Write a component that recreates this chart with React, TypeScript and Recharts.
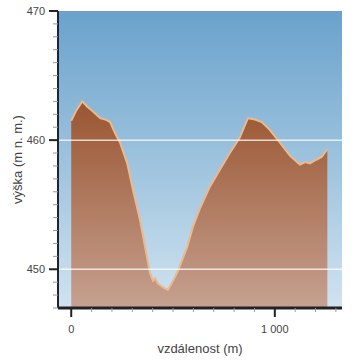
import { AreaChart, Area, XAxis, YAxis, ReferenceLine } from "recharts";

// horizontal distance along the profile (m)
const distances = [
  0, 25, 54, 78, 108, 142, 167, 191, 216, 240, 275, 304, 338, 363, 387, 402, 412, 426,
  451, 475, 500, 525, 569, 598, 632, 681, 730, 779, 828, 868, 902, 936, 975, 1025,
  1074, 1123, 1150, 1172, 1206, 1230, 1258,
];
// elevation (m n. m.)
const elevations = [
  461.5, 462.3, 463.0, 462.6, 462.2, 461.7, 461.6, 461.4, 460.5, 459.8, 458.2, 456.1,
  453.8, 451.7, 449.7, 449.1, 449.3, 448.9, 448.6, 448.4, 449.1, 449.9, 451.7, 453.3,
  454.7, 456.4, 457.7, 459.0, 460.2, 461.7, 461.6, 461.4, 460.8, 459.8, 458.8, 458.1,
  458.3, 458.2, 458.5, 458.7, 459.3,
];

const yTicks = Array.from({ length: 24 }, (_, i) => 447 + i);
const yMajor = [450, 460, 470];
const xTicks = Array.from({ length: 14 }, (_, i) => i * 100);
const xMajor = [0, 1000];

const data = distances.map((d, i) => ({ d, h: elevations[i] }));

const font = "'Liberation Sans', Arial, sans-serif";

const fmtX = (v: number) => (v === 1000 ? "1\u00a0000" : String(v));

const YTick = (props: any) => {
  const { x, y, payload } = props;
  const major = yMajor.includes(payload.value);
  return (
    <g>
      <line
        x1={major ? x - 9 : x - 5}
        x2={x}
        y1={y}
        y2={y}
        stroke={major ? "#222" : "#999"}
        strokeWidth={major ? 2 : 1}
      />
      {major && (
        <text x={x - 13} y={y} dy={4} textAnchor="end" fontSize={11} fill="#444" fontFamily={font}>
          {payload.value}
        </text>
      )}
    </g>
  );
};

const XTick = (props: any) => {
  const { x, y, payload } = props;
  const major = xMajor.includes(payload.value);
  return (
    <g>
      <line
        x1={x}
        x2={x}
        y1={y}
        y2={major ? y + 9 : y + 4}
        stroke={major ? "#222" : "#999"}
        strokeWidth={major ? 2 : 1}
      />
      {major && (
        <text x={x} y={y + 25} textAnchor="middle" fontSize={11} fill="#444" fontFamily={font}>
          {fmtX(payload.value)}
        </text>
      )}
    </g>
  );
};

export default function App() {
  return (
    <div style={{ position: "fixed", left: 0, top: 0, width: 354, height: 362, background: "#fff" }}>
      <AreaChart
        width={354}
        height={362}
        data={data}
        margin={{ top: 11, right: 12, left: 0, bottom: 0 }}
      >
        <defs>
          <linearGradient id="bg" x1="0" y1="0" x2="0" y2="1">
            <stop offset="0%" stopColor="#6aa2cc" />
            <stop offset="100%" stopColor="#d0e3f0" />
          </linearGradient>
          <linearGradient id="ground" x1="0" y1="0" x2="0" y2="1">
            <stop offset="0%" stopColor="#9a5530" />
            <stop offset="100%" stopColor="#c6a191" />
          </linearGradient>
        </defs>
        <rect x={58} y={11} width={284} height={297} fill="url(#bg)" />
        <XAxis
          dataKey="d"
          type="number"
          domain={[-65, 1330]}
          ticks={xTicks}
          tick={<XTick />}
          tickLine={false}
          tickSize={0}
          tickMargin={0}
          height={54}
          axisLine={{ stroke: "#222", strokeWidth: 3 }}
          interval={0}
          label={{
            value: "vzdálenost (m)",
            position: "insideBottom",
            offset: 9,
            fontSize: 13,
            fill: "#444",
            fontFamily: font,
          }}
        />
        <YAxis
          type="number"
          domain={[447, 470]}
          ticks={yTicks}
          tick={<YTick />}
          tickLine={false}
          tickSize={0}
          tickMargin={0}
          width={58}
          interval={0}
          axisLine={{ stroke: "#223", strokeWidth: 2 }}
          label={{
            value: "výška (m n. m.)",
            angle: -90,
            position: "center",
            dx: -12,
            fontSize: 13,
            fill: "#444",
            fontFamily: font,
          }}
        />
        <Area
          type="linear"
          dataKey="h"
          stroke="#eab98e"
          strokeWidth={2}
          fill="url(#ground)"
          fillOpacity={1}
          isAnimationActive={false}
          dot={false}
          activeDot={false}
        />
        {yMajor.slice(0, 2).map((v) => (
          <ReferenceLine key={v} y={v} stroke="#ffffff" strokeOpacity={0.75} strokeWidth={1.5} />
        ))}
      </AreaChart>
    </div>
  );
}
